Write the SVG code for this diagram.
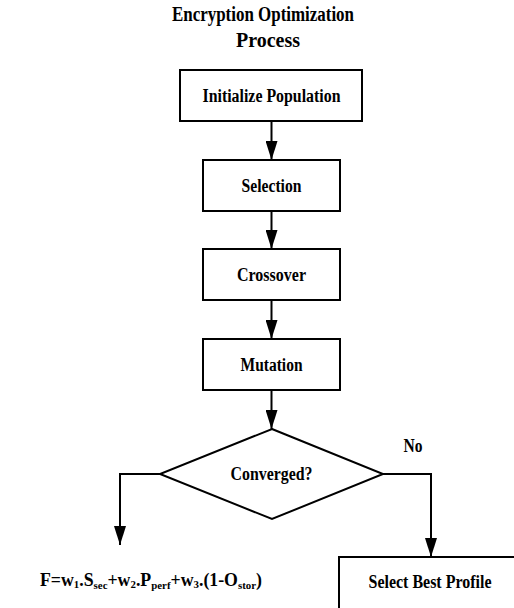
<svg xmlns="http://www.w3.org/2000/svg" width="514" height="608" viewBox="0 0 514 608">
<defs>
<style>
.t{font-family:"Liberation Serif","Times New Roman",serif;font-weight:bold;fill:#000;text-anchor:middle}
.box{fill:#fff;stroke:#000;stroke-width:2}
.ln{fill:none;stroke:#000;stroke-width:2}
.sub{font-size:11px}
</style>
<marker id="ah" markerUnits="userSpaceOnUse" markerWidth="19" markerHeight="12" refX="19" refY="6" orient="auto" viewBox="0 0 19 12">
<path d="M0,0 L19,6 L0,12 Z" fill="#000"/>
</marker>
</defs>
<rect width="514" height="608" fill="#fff"/>
<g id="title">
<text class="t" x="263" y="21" font-size="20" textLength="182" lengthAdjust="spacingAndGlyphs">Encryption Optimization</text>
<text class="t" x="268" y="47" font-size="20" textLength="64" lengthAdjust="spacingAndGlyphs">Process</text>
</g>
<g id="connectors">
<path class="ln" d="M271.5,121 V160" marker-end="url(#ah)"/>
<path class="ln" d="M271.5,211 V249" marker-end="url(#ah)"/>
<path class="ln" d="M271.5,300 V339" marker-end="url(#ah)"/>
<path class="ln" d="M271.5,390 V429" marker-end="url(#ah)"/>
<path class="ln" d="M160,474 H120 V545" marker-end="url(#ah)"/>
<path class="ln" d="M383,474 H431 V557" marker-end="url(#ah)"/>
</g>
<g id="init">
<rect class="box" x="180" y="70" width="182" height="51"/>
<text class="t" x="271.5" y="102" font-size="18" textLength="138" lengthAdjust="spacingAndGlyphs">Initialize Population</text>
</g>
<g id="selection">
<rect class="box" x="203" y="160" width="137" height="51"/>
<text class="t" x="271.5" y="191.5" font-size="18" textLength="60" lengthAdjust="spacingAndGlyphs">Selection</text>
</g>
<g id="crossover">
<rect class="box" x="203" y="249" width="137" height="51"/>
<text class="t" x="271.5" y="280.5" font-size="18" textLength="69" lengthAdjust="spacingAndGlyphs">Crossover</text>
</g>
<g id="mutation">
<rect class="box" x="203" y="339" width="137" height="51"/>
<text class="t" x="271.5" y="370.5" font-size="18" textLength="62" lengthAdjust="spacingAndGlyphs">Mutation</text>
</g>
<g id="converged">
<polygon class="box" points="272,429 383,474 272,519 160,474"/>
<text class="t" x="271.5" y="480" font-size="18" textLength="82" lengthAdjust="spacingAndGlyphs">Converged?</text>
</g>
<g id="no-label">
<text class="t" x="413" y="452" font-size="18" textLength="19" lengthAdjust="spacingAndGlyphs">No</text>
</g>
<g id="formula">
<text class="t" x="40" y="586" font-size="18" style="text-anchor:start" textLength="222" lengthAdjust="spacingAndGlyphs">F=w<tspan class="sub" dy="2">1</tspan><tspan dy="-2">.S</tspan><tspan class="sub" dy="3">sec</tspan><tspan dy="-3">+w</tspan><tspan class="sub" dy="2">2</tspan><tspan dy="-2">.P</tspan><tspan class="sub" dy="3">perf</tspan><tspan dy="-3">+w</tspan><tspan class="sub" dy="2">3</tspan><tspan dy="-2">.(1-O</tspan><tspan class="sub" dy="3">stor</tspan><tspan dy="-3">)</tspan></text>
</g>
<g id="select-best">
<rect class="box" x="339" y="557" width="185" height="60"/>
<text class="t" x="430" y="588" font-size="18" textLength="123" lengthAdjust="spacingAndGlyphs">Select Best Profile</text>
</g>
</svg>
